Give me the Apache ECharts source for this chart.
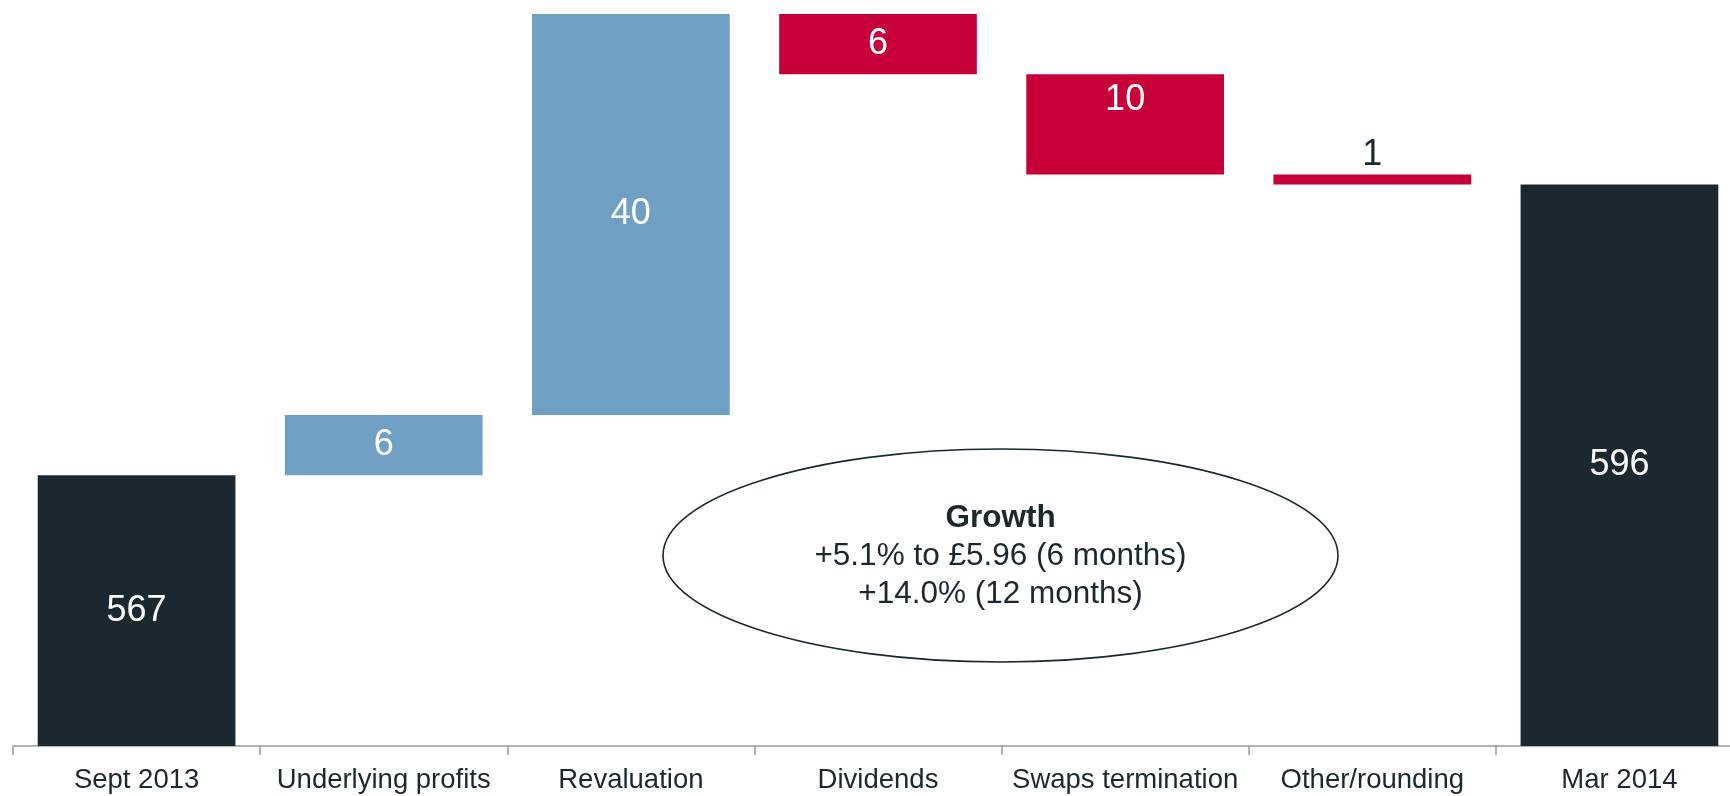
<!DOCTYPE html>
<html>
<head>
<meta charset="utf-8">
<title>Net asset value per share bridge</title>
<script src="https://cdn.jsdelivr.net/npm/echarts@6/dist/echarts.min.js"></script>
<style>
  html, body { margin: 0; padding: 0; background: #ffffff; }
  #chart { width: 1730px; height: 796px; }
</style>
</head>
<body>
<div id="chart"></div>
<script>
// Bridge from Sept 2013 to Mar 2014 (pence per share)
const categories = ['Sept 2013', 'Underlying profits', 'Revaluation', 'Dividends', 'Swaps termination', 'Other/rounding', 'Mar 2014'];
const changes = [567, 6, 40, -6, -10, -1, 596];
const kinds = ['total', 'up', 'up', 'down', 'down', 'down', 'total'];
const labelSpots = ['inside', 'inside', 'inside', 'inside', 'insideTop', 'top', 'inside'];
const growthLines = ['Growth', '+5.1% to £5.96 (6 months)', '+14.0% (12 months)'];

const COLORS = { total: '#1B2830', up: '#709FC4', down: '#C8003A' };
const FONT = "'Liberation Sans', Arial, Helvetica, sans-serif";

// Build the invisible base and visible step of each waterfall bar
const base = [];
const steps = [];
let running = 0;
changes.forEach((v, i) => {
  const kind = kinds[i];
  let b, h;
  if (kind === 'total') { b = 0; h = v; running = v; }
  else if (kind === 'up') { b = running; h = v; running += v; }
  else { running += v; b = running; h = -v; }
  base.push(b);
  const spot = labelSpots[i];
  let label;
  if (spot === 'top') label = { position: 'top', color: '#1B2830', distance: 1 };
  else if (spot === 'insideTop') label = { position: 'insideTop', color: '#ffffff', distance: 8 };
  else label = { position: 'inside', color: '#ffffff' };
  steps.push({ value: h, itemStyle: { color: COLORS[kind] }, label });
});

const chart = echarts.init(document.getElementById('chart'), null, { renderer: 'canvas' });

chart.setOption({
  animation: false,
  backgroundColor: '#ffffff',
  textStyle: { fontFamily: FONT },
  grid: { left: 13, top: 14, bottom: 50, width: 1730, containLabel: false, outerBoundsMode: 'none' },
  xAxis: {
    type: 'category',
    data: categories,
    boundaryGap: true,
    axisLine: { show: true, lineStyle: { color: '#9A9A9A', width: 1.5 } },
    axisTick: { show: true, length: 9, lineStyle: { color: '#9A9A9A', width: 1.5 } },
    axisLabel: { color: '#1B2830', fontSize: 27.5, fontFamily: FONT, margin: 20, interval: 0 }
  },
  yAxis: {
    type: 'value',
    min: 540,
    max: 613,
    show: false,
    splitLine: { show: false }
  },
  series: [
    {
      name: 'base',
      type: 'bar',
      stack: 'bridge',
      barWidth: '80%',
      itemStyle: { color: 'transparent' },
      emphasis: { disabled: true },
      silent: true,
      data: base
    },
    {
      name: 'change',
      type: 'bar',
      stack: 'bridge',
      barWidth: '80%',
      label: {
        show: true,
        fontSize: 36,
        fontFamily: FONT,
        formatter: p => String(p.value)
      },
      data: steps
    }
  ],
  graphic: [
    {
      type: 'ellipse',
      shape: { cx: 1000.5, cy: 555.5, rx: 337.5, ry: 106.5 },
      style: { fill: '#ffffff', stroke: '#1B2830', lineWidth: 1.6 },
      z: 1
    },
    {
      type: 'text',
      x: 1000.5,
      y: 556,
      z: 2,
      style: {
        text: '{b|' + growthLines[0] + '}\n{n|' + growthLines[1] + '}\n{n|' + growthLines[2] + '}',
        align: 'center',
        verticalAlign: 'middle',
        fontFamily: FONT,
        fill: '#1B2830',
        rich: {
          b: { fontSize: 31.5, fontWeight: 'bold', lineHeight: 38, fontFamily: FONT, fill: '#1B2830', align: 'center' },
          n: { fontSize: 31.5, lineHeight: 38, fontFamily: FONT, fill: '#1B2830', align: 'center' }
        }
      }
    }
  ]
});
</script>
</body>
</html>
